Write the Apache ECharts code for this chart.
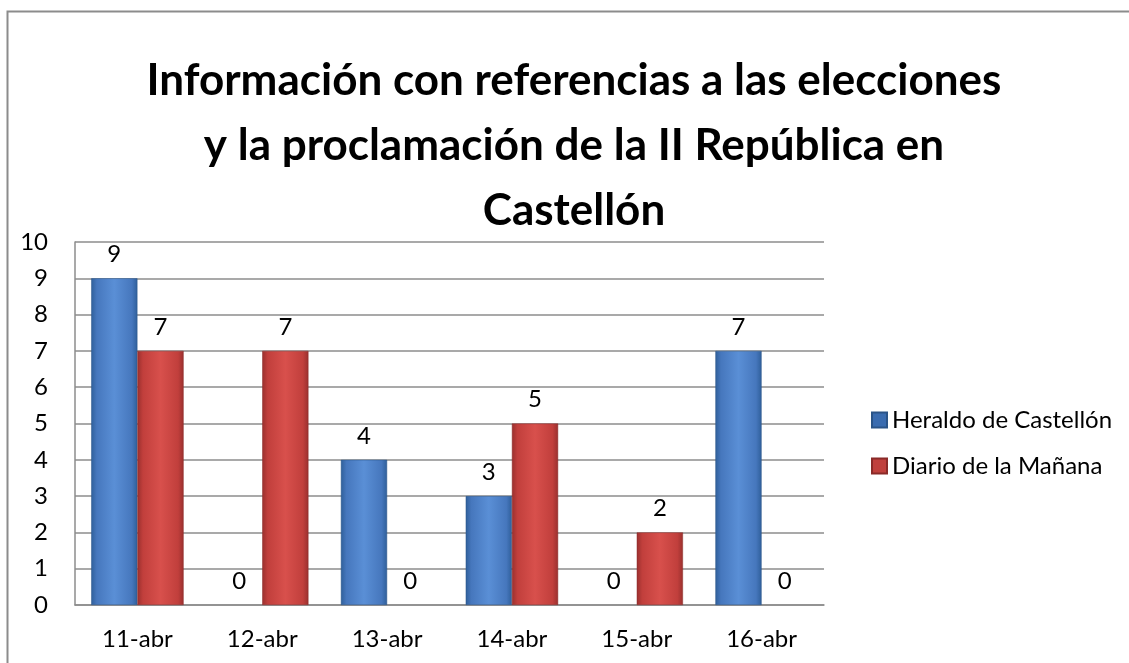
<!DOCTYPE html>
<html>
<head>
<meta charset="utf-8">
<script src="https://cdn.jsdelivr.net/npm/echarts@6/dist/echarts.min.js"></script>
<style>
  html, body { margin: 0; padding: 0; background: #fff; }
  #chart { width: 1129px; height: 663px; }
</style>
</head>
<body>
<div id="chart"></div>
<script>
var categories = ["11-abr", "12-abr", "13-abr", "14-abr", "15-abr", "16-abr"];
var heraldo = [9, 0, 4, 3, 0, 7];
var diario = [7, 7, 0, 5, 2, 0];
var yTicks = [0, 1, 2, 3, 4, 5, 6, 7, 8, 9, 10];

var FONT = "Lato, 'Open Sans', sans-serif";

function barFill(dark, mid, light) {
  return new echarts.graphic.LinearGradient(0, 0, 1, 0, [
    { offset: 0, color: dark },
    { offset: 0.12, color: mid },
    { offset: 0.5, color: light },
    { offset: 0.88, color: mid },
    { offset: 1, color: dark }
  ]);
}

// zero-height bars get no border so nothing is drawn for them
function items(values) {
  return values.map(function (v) {
    return v === 0 ? { value: v, itemStyle: { borderWidth: 0 } } : v;
  });
}

var chart = echarts.init(document.getElementById("chart"), null, { renderer: "canvas" });

var labelStyle = { show: true, position: "top", distance: 12, fontFamily: FONT, fontSize: 24, color: "#000" };

var option = {
  animation: false,
  backgroundColor: "#fff",
  textStyle: { fontFamily: FONT },
  graphic: [
    {
      type: "rect",
      shape: { x: 7.5, y: 11.5, width: 1200, height: 700 },
      style: { fill: "none", stroke: "#8c8c8c", lineWidth: 2 },
      silent: true
    }
  ],
  title: {
    text: "Información con referencias a las elecciones\ny la proclamación de la II República en\nCastellón",
    left: 569,
    textAlign: "center",
    top: 43,
    textStyle: {
      fontFamily: FONT,
      fontSize: 44,
      fontWeight: "bold",
      color: "#000",
      lineHeight: 65
    }
  },
  legend: {
    orient: "vertical",
    left: 866,
    top: 403,
    itemWidth: 15,
    itemHeight: 15,
    itemGap: 22,
    icon: "rect",
    textStyle: { fontFamily: FONT, fontSize: 24, color: "#000", padding: [0, 0, 0, 0] },
    data: [
      { name: "Heraldo de Castellón", itemStyle: { color: "#3a6cb0" } },
      { name: "Diario de la Mañana", itemStyle: { color: "#c0403d" } }
    ]
  },
  grid: { left: 75, right: 305, top: 242, bottom: 58, containLabel: false },
  xAxis: {
    type: "category",
    data: categories,
    axisLine: { show: true, lineStyle: { color: "#8c8c8c", width: 1.5 } },
    axisTick: { show: false },
    axisLabel: { fontFamily: FONT, fontSize: 24, color: "#000", margin: 22 }
  },
  yAxis: {
    type: "value",
    min: yTicks[0],
    max: yTicks[yTicks.length - 1],
    interval: 1,
    axisLine: { show: true, lineStyle: { color: "#8c8c8c", width: 1.5 } },
    axisTick: { show: false },
    axisLabel: { fontFamily: FONT, fontSize: 24, color: "#000", margin: 27 },
    splitLine: { show: true, lineStyle: { color: "#8c8c8c", width: 1.5 } }
  },
  series: [
    {
      name: "Heraldo de Castellón",
      type: "bar",
      data: items(heraldo),
      barGap: "0%",
      barCategoryGap: "26%",
      itemStyle: {
        color: barFill("#2f5f9a", "#4677bd", "#5a8fd6"),
        borderColor: "#2a5488",
        borderWidth: 0.5
      },
      label: labelStyle
    },
    {
      name: "Diario de la Mañana",
      type: "bar",
      data: items(diario),
      barGap: "0%",
      barCategoryGap: "26%",
      itemStyle: {
        color: barFill("#9a302e", "#c13f3c", "#d8504c"),
        borderColor: "#8a2a28",
        borderWidth: 0.5
      },
      label: labelStyle
    }
  ]
};

chart.setOption(option);
</script>
</body>
</html>
